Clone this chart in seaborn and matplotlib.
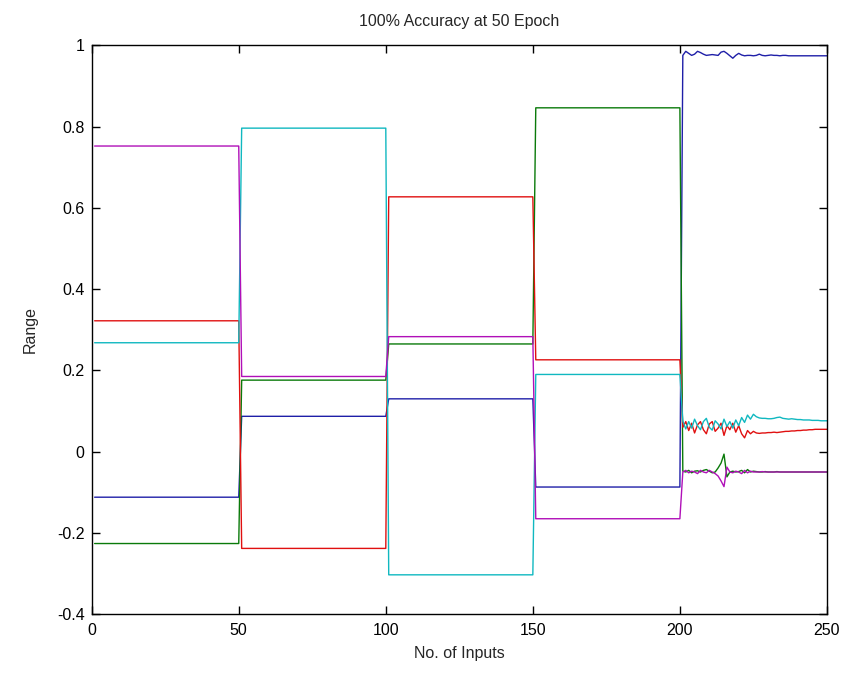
import numpy as np
import pandas as pd
import matplotlib
matplotlib.use("Agg")
import matplotlib.pyplot as plt
import seaborn as sns

sns.set_style("ticks")
plt.rcParams['font.family'] = ['Liberation Sans', 'DejaVu Sans']

# step levels read per block of 50 inputs (blocks 1-4), block 5 is written out
seg_len = 50
levels = {
    "blue":    [-0.112, 0.087, 0.130, -0.087],
    "green":   [-0.226, 0.176, 0.265, 0.846],
    "red":     [0.322, -0.238, 0.627, 0.226],
    "cyan":    [0.268, 0.796, -0.303, 0.190],
    "magenta": [0.752, 0.185, 0.283, -0.165],
}

# last block (inputs 201-250), read point by point where it wiggles
tail_blue = [0.975, 0.985, 0.980, 0.975, 0.978, 0.985, 0.982, 0.978, 0.975, 0.976,
             0.977, 0.976, 0.975, 0.983, 0.985, 0.980, 0.974, 0.968, 0.975, 0.980,
             0.976, 0.974, 0.975, 0.975, 0.974, 0.975, 0.978, 0.975, 0.974, 0.975,
             0.976, 0.975, 0.975, 0.974, 0.975, 0.975, 0.974, 0.974, 0.974, 0.974,
             0.974, 0.974, 0.974, 0.974, 0.974, 0.974, 0.974, 0.974, 0.974, 0.974]
tail_cyan = [0.075, 0.056, 0.074, 0.058, 0.080, 0.064, 0.054, 0.074, 0.082, 0.060,
             0.053, 0.076, 0.068, 0.056, 0.080, 0.062, 0.074, 0.058, 0.078, 0.064,
             0.084, 0.072, 0.090, 0.080, 0.092, 0.086, 0.083, 0.082, 0.082, 0.081,
             0.081, 0.082, 0.084, 0.085, 0.082, 0.081, 0.080, 0.081, 0.080, 0.079,
             0.079, 0.078, 0.078, 0.078, 0.077, 0.077, 0.077, 0.076, 0.076, 0.076]
tail_red = [0.060, 0.074, 0.052, 0.070, 0.046, 0.066, 0.074, 0.054, 0.044, 0.068,
            0.074, 0.050, 0.058, 0.070, 0.040, 0.064, 0.054, 0.070, 0.048, 0.064,
            0.044, 0.034, 0.052, 0.044, 0.050, 0.046, 0.045, 0.046, 0.046, 0.047,
            0.047, 0.048, 0.047, 0.048, 0.049, 0.050, 0.050, 0.051, 0.051, 0.052,
            0.052, 0.053, 0.053, 0.054, 0.054, 0.055, 0.055, 0.055, 0.055, 0.055]
tail_green = [-0.048, -0.050, -0.046, -0.052, -0.048, -0.047, -0.050, -0.046, -0.044, -0.048,
              -0.052, -0.050, -0.040, -0.028, -0.006, -0.062, -0.050, -0.048, -0.050, -0.049,
              -0.046, -0.052, -0.044, -0.050, -0.048, -0.049, -0.050, -0.050, -0.049, -0.050,
              -0.050, -0.050, -0.049, -0.050, -0.050, -0.050, -0.050, -0.050, -0.050, -0.050,
              -0.050, -0.050, -0.050, -0.050, -0.050, -0.050, -0.050, -0.050, -0.050, -0.050]
tail_magenta = [-0.050, -0.046, -0.052, -0.048, -0.050, -0.054, -0.046, -0.050, -0.052, -0.046,
                -0.050, -0.054, -0.060, -0.072, -0.086, -0.038, -0.050, -0.052, -0.048, -0.050,
                -0.054, -0.046, -0.052, -0.048, -0.050, -0.050, -0.050, -0.049, -0.050, -0.050,
                -0.050, -0.050, -0.050, -0.050, -0.050, -0.050, -0.050, -0.050, -0.050, -0.050,
                -0.050, -0.050, -0.050, -0.050, -0.050, -0.050, -0.050, -0.050, -0.050, -0.050]
tails = {"blue": tail_blue, "green": tail_green, "red": tail_red,
         "cyan": tail_cyan, "magenta": tail_magenta}

series_order = ["blue", "green", "red", "cyan", "magenta"]
palette = {"blue": "#1f1fa8", "green": "#0a7a0a", "red": "#e01010",
           "cyan": "#10b8c0", "magenta": "#b010b8"}

inputs = np.arange(1, 5 * seg_len + 1)
frames = []
for name in series_order:
    vals = np.concatenate([np.repeat(levels[name], seg_len), tails[name]])
    frames.append(pd.DataFrame({"input": inputs, "value": vals, "series": name}))
df = pd.concat(frames, ignore_index=True)

fig = plt.figure(figsize=(8.49, 6.75), dpi=100)
ax = fig.add_axes([0.108, 0.090, 0.866, 0.843])
sns.lineplot(data=df, x="input", y="value", hue="series", hue_order=series_order,
             palette=palette, estimator=None, linewidth=1.0, legend=False, ax=ax)

ax.set_xlim(0, 250)
ax.set_ylim(-0.4, 1)
ax.set_xticks([0, 50, 100, 150, 200, 250])
ax.set_yticks([-0.4, -0.2, 0, 0.2, 0.4, 0.6, 0.8, 1])
ax.set_yticklabels(["-0.4", "-0.2", "0", "0.2", "0.4", "0.6", "0.8", "1"])
ax.tick_params(direction="in", length=6, width=1, top=True, right=True,
               labelsize=11.5, colors="black")
ax.tick_params(axis="x", pad=6)
ax.tick_params(axis="y", pad=5)
for sp in ax.spines.values():
    sp.set_linewidth(1.0)
    sp.set_color("black")

ax.set_title("100% Accuracy at 50 Epoch", fontsize=11.5, pad=14)
ax.set_xlabel("No. of Inputs", fontsize=11.5, labelpad=6)
ax.set_ylabel("Range", fontsize=11.5, labelpad=14)

fig.savefig("out.png", dpi=100)
